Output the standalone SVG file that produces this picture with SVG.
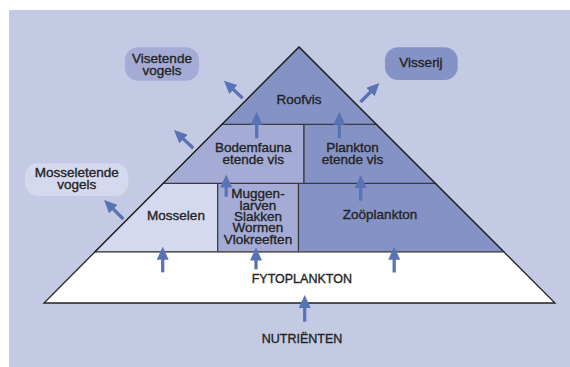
<svg xmlns="http://www.w3.org/2000/svg" width="570" height="367" viewBox="0 0 570 367">
<defs>
<marker id="ah" markerUnits="userSpaceOnUse" markerWidth="13" markerHeight="12" viewBox="0 0 13 12" refX="1" refY="6" orient="auto">
<path d="M0,0 L13,6 L0,12 z" fill="#5a73b5"/>
</marker>
<style>
.t{font-family:"Liberation Sans",Arial,sans-serif;font-size:13.5px;fill:#232323;stroke:#232323;stroke-width:0.35;text-anchor:middle}
.s{font-size:12.5px}
.dark{fill:#8592c5}
.mid{fill:#a4acd6}
.light{fill:#d5d9ee}
.tier{stroke:#3a3a3a;stroke-width:1.2}
.arr{stroke:#5a73b5;stroke-width:3.3;fill:none;marker-end:url(#ah)}
</style>
</defs>
<rect x="0" y="0" width="570" height="367" fill="#ffffff"/>
<rect x="9" y="10" width="561" height="357" fill="#c5cae4"/>

<g id="visetende-vogels">
<rect x="125" y="47.3" width="74" height="33.4" rx="13" class="mid"/>
<text class="t" x="162" y="63.3">Visetende</text>
<text class="t" x="162" y="74.8">vogels</text>
</g>
<g id="visserij">
<rect x="385" y="47.3" width="72.7" height="32.7" rx="13" class="dark"/>
<text class="t" x="421" y="67.3">Visserij</text>
</g>
<g id="mosseletende-vogels">
<rect x="25" y="163.3" width="103.3" height="32.7" rx="13" class="light"/>
<text class="t" x="76.7" y="177.3">Mosseletende</text>
<text class="t" x="76.7" y="188.8">vogels</text>
</g>

<g id="fytoplankton">
<polygon points="95.1,251.7 503.7,251.7 555,303 44,303" fill="#ffffff"/>
<text class="t s" x="301.8" y="283.3">FYTOPLANKTON</text>
</g>
<g id="mosselen">
<polygon points="163.2,183.3 217.7,183.3 217.7,251.7 95.1,251.7" class="light tier"/>
<text class="t" x="176" y="220">Mosselen</text>
</g>
<g id="muggenlarven">
<polygon points="217.7,183.3 298.5,183.3 298.5,251.7 217.7,251.7" class="mid tier"/>
<text class="t" x="258" y="198.3">Muggen-</text>
<text class="t" x="258" y="209.6">larven</text>
<text class="t" x="258" y="220.9">Slakken</text>
<text class="t" x="258" y="232.2">Wormen</text>
<text class="t" x="258" y="243.5">Vlokreeften</text>
</g>
<g id="zooplankton">
<polygon points="298.5,183.3 435.3,183.3 503.7,251.7 298.5,251.7" class="dark tier"/>
<text class="t" x="380" y="219.3">Zoöplankton</text>
</g>
<g id="bodemfauna">
<polygon points="222,124.3 304,124.3 304,183.3 163.2,183.3" class="mid tier"/>
<text class="t" x="253.3" y="152.3">Bodemfauna</text>
<text class="t" x="253.3" y="163.7">etende vis</text>
</g>
<g id="plankton-etende-vis">
<polygon points="304,124.3 376.3,124.3 435.3,183.3 304,183.3" class="dark tier"/>
<text class="t" x="352.4" y="152.3">Plankton</text>
<text class="t" x="352.4" y="163.7">etende vis</text>
</g>
<g id="roofvis">
<polygon points="299,47 376.3,124.3 222,124.3" class="dark tier"/>
<text class="t" x="299" y="104">Roofvis</text>
</g>
<line x1="95.1" y1="251.7" x2="503.7" y2="251.7" stroke="#555" stroke-width="1.6"/>
<polygon points="299,47 555,303 44,303" fill="none" stroke="#222" stroke-width="1.3"/>

<g id="nutrienten">
<text class="t s" x="302" y="342.7">NUTRIËNTEN</text>
</g>

<g id="connectors">
<line class="arr" x1="162.7" y1="272.3" x2="162.7" y2="258.7"/>
<line class="arr" x1="256" y1="269.3" x2="256" y2="259.5"/>
<line class="arr" x1="394.2" y1="272.5" x2="394.2" y2="258.7"/>
<line class="arr" x1="304.7" y1="321.7" x2="304.7" y2="307"/>
<line class="arr" x1="226.2" y1="196.7" x2="226.2" y2="186.5"/>
<line class="arr" x1="360.7" y1="200.7" x2="360.7" y2="187"/>
<line class="arr" x1="256.7" y1="138.3" x2="256.7" y2="123.7"/>
<line class="arr" x1="339.3" y1="138.3" x2="339.3" y2="123.7"/>
<line class="arr" x1="242.7" y1="98.3" x2="232.7" y2="88.9"/>
<line class="arr" x1="193.3" y1="148.3" x2="182.7" y2="138.3"/>
<line class="arr" x1="123.3" y1="219" x2="112.6" y2="208.4"/>
<line class="arr" x1="360.5" y1="102" x2="371" y2="91.5"/>
</g>
</svg>
